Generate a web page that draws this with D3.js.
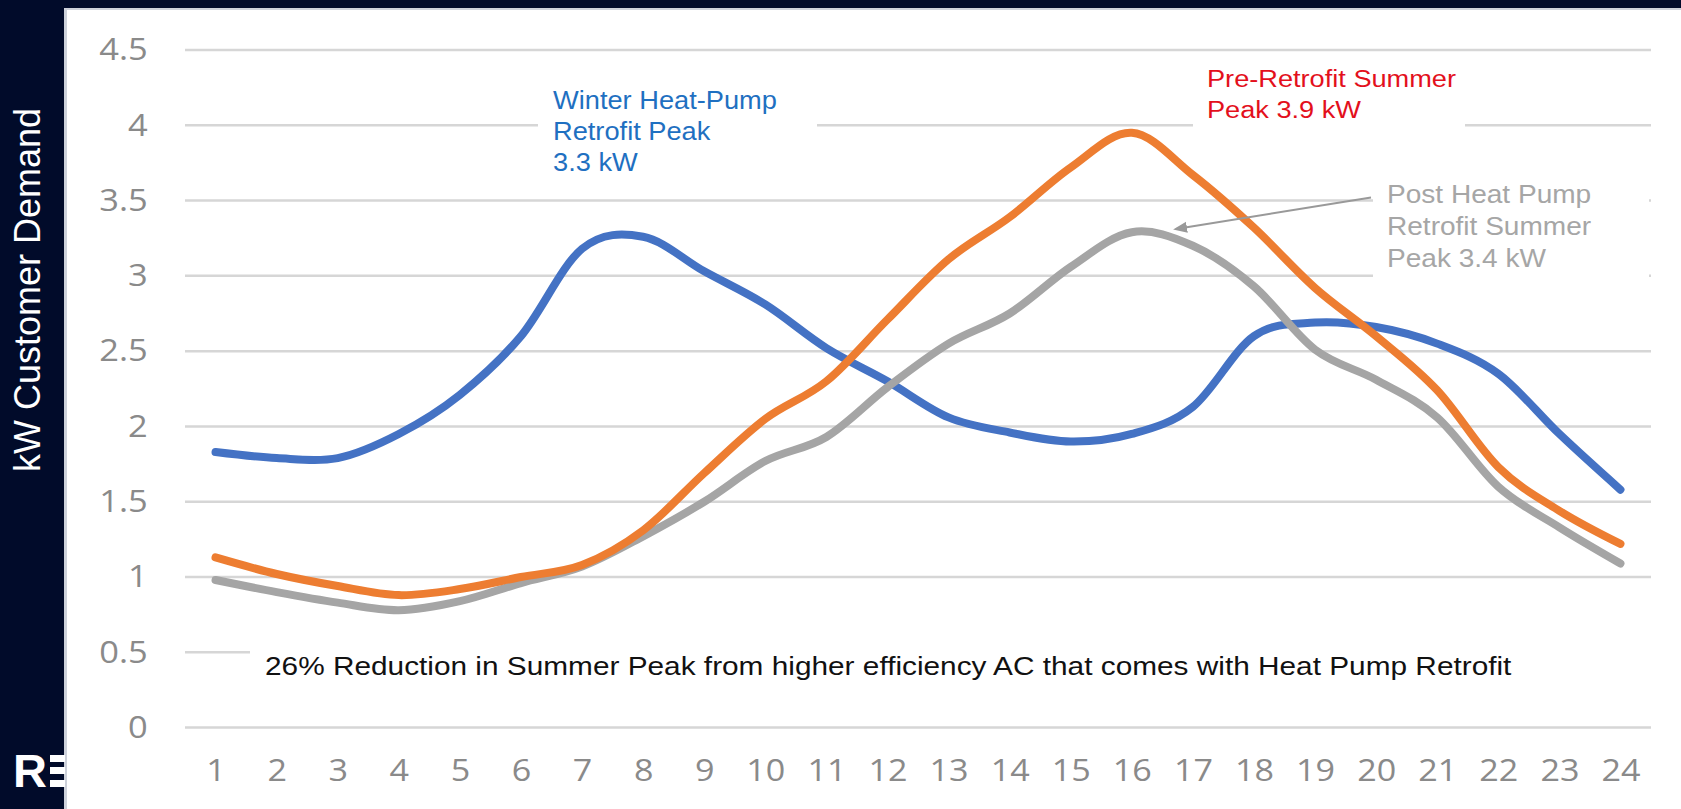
<!DOCTYPE html>
<meta charset="utf-8">
<style>
body { margin: 0; background: #010b2a; }
.grid line { stroke: #d6d6d6; stroke-width: 2.5; }
.axis text { font-family: "Open Sans", sans-serif; fill: #8a8a8a; }
.axis path { display: none; }
.series { fill: none; stroke-width: 8; stroke-linecap: round; stroke-linejoin: round; }
</style>
<body>
<script src="https://d3js.org/d3.v7.min.js"></script>
<script>

var width = 1681,
    height = 809;

// hours of the day (x categories)
var hours = [1, 2, 3, 4, 5, 6, 7, 8, 9, 10, 11, 12, 13, 14, 15, 16, 17, 18, 19, 20, 21, 22, 23, 24];

// kW demand
var winterHeatPump = [1.83, 1.79, 1.79, 1.95, 2.21, 2.60, 3.18, 3.26, 3.03, 2.81, 2.52, 2.30,
                      2.06, 1.96, 1.90, 1.95, 2.13, 2.60, 2.69, 2.66, 2.55, 2.35, 1.95, 1.58];
var preRetrofitSummer = [1.13, 1.02, 0.94, 0.88, 0.92, 1.00, 1.08, 1.31, 1.69, 2.05, 2.30, 2.71,
                         3.11, 3.39, 3.72, 3.95, 3.67, 3.32, 2.92, 2.60, 2.24, 1.73, 1.44, 1.22];
var postRetrofitSummer = [0.98, 0.90, 0.83, 0.78, 0.84, 0.96, 1.07, 1.27, 1.50, 1.77, 1.93, 2.26,
                          2.55, 2.75, 3.06, 3.29, 3.20, 2.93, 2.51, 2.31, 2.06, 1.60, 1.33, 1.09];

var yTicks = [0, 0.5, 1, 1.5, 2, 2.5, 3, 3.5, 4, 4.5];
var yTitle = "kW Customer Demand";

var winterNote = ["Winter Heat-Pump", "Retrofit Peak", "3.3 kW"];
var preNote = ["Pre-Retrofit Summer", "Peak 3.9 kW"];
var postNote = ["Post Heat Pump", "Retrofit Summer", "Peak 3.4 kW"];
var bottomNote = "26% Reduction in Summer Peak from higher efficiency AC that comes with Heat Pump Retrofit";

var plotLeft = 185, plotRight = 1651, plotTop = 50, plotBottom = 727.6;
var stretch = 1.1;   // the source picture is a little wider than tall

var svg = d3.select("body").append("svg")
    .attr("width", width)
    .attr("height", height)
    .style("display", "block");

// dark slide frame and white chart panel
svg.append("rect").attr("width", width).attr("height", height).attr("fill", "#010b2a");
svg.append("rect").attr("x", 64).attr("y", 8).attr("width", width - 64).attr("height", height - 8).attr("fill", "#cdd1da");
svg.append("rect").attr("x", 67).attr("y", 10).attr("width", width - 67).attr("height", height - 10).attr("fill", "#ffffff");

// logo bits bottom left
svg.append("text")
    .attr("x", 13).attr("y", 787)
    .attr("font-family", "Liberation Sans, Arial, sans-serif")
    .attr("font-weight", "bold")
    .attr("font-size", 47)
    .attr("fill", "#ffffff")
    .text("R");
svg.append("g").selectAll("rect")
    .data([755, 767, 780])
    .enter().append("rect")
    .attr("x", 50).attr("y", function(d) { return d; })
    .attr("width", 15).attr("height", 7)
    .attr("fill", "#ffffff");

var x = d3.scalePoint()
    .domain(hours)
    .range([plotLeft, plotRight])
    .padding(0.5);

var y = d3.scaleLinear()
    .domain([0, 4.5])
    .range([plotBottom, plotTop]);

// gridlines
svg.append("g")
    .attr("class", "grid")
    .selectAll("line")
    .data(yTicks)
    .enter().append("line")
    .attr("x1", plotLeft).attr("x2", plotRight)
    .attr("y1", function(d) { return y(d); })
    .attr("y2", function(d) { return y(d); });

// white boxes behind the text notes (they hide the gridlines)
var boxes = [[538, 72, 279, 110], [1193, 58, 272, 78], [1373, 170, 276, 112], [250, 640, 1405, 48]];
svg.append("g").selectAll("rect")
    .data(boxes)
    .enter().append("rect")
    .attr("x", function(d) { return d[0]; })
    .attr("y", function(d) { return d[1]; })
    .attr("width", function(d) { return d[2]; })
    .attr("height", function(d) { return d[3]; })
    .attr("fill", "#ffffff");

// axes
svg.append("g")
    .attr("class", "axis")
    .attr("transform", "translate(" + plotLeft + ",0)")
    .call(d3.axisLeft(y).tickValues(yTicks).tickSize(0).tickPadding(33).tickFormat(function(d) { return String(d); }))
    .selectAll("text")
    .attr("font-size", 30.5)
    .attr("transform", "scale(1.13,1)");

svg.append("g")
    .attr("class", "axis")
    .attr("transform", "translate(0," + plotBottom + ")")
    .call(d3.axisBottom(x).tickSize(0).tickPadding(31))
    .selectAll("text")
    .attr("font-size", 31)
    .attr("transform", "scale(" + stretch + ",1)");

// y title
svg.append("text")
    .attr("transform", "translate(40,290) rotate(-90)")
    .attr("text-anchor", "middle")
    .attr("font-family", "Liberation Sans, Arial, sans-serif")
    .attr("font-size", 36)
    .attr("fill", "#ffffff")
    .text(yTitle);

// lines
var line = d3.line()
    .x(function(d, i) { return x(hours[i]); })
    .y(function(d) { return y(d); })
    .curve(d3.curveCardinal);

var series = [
    { values: winterHeatPump, color: "#4472c4" },
    { values: postRetrofitSummer, color: "#a5a5a5" },
    { values: preRetrofitSummer, color: "#ed7d31" }
];

svg.append("g").selectAll("path")
    .data(series)
    .enter().append("path")
    .attr("class", "series")
    .attr("stroke", function(d) { return d.color; })
    .attr("d", function(d) { return line(d.values); });

// notes
function note(lines, left, baseline, lineHeight, size, color, sx) {
    var t = svg.append("text")
        .attr("transform", "translate(" + left + "," + baseline + ") scale(" + (sx || stretch) + ",1)")
        .attr("font-family", "Liberation Sans, Arial, sans-serif")
        .attr("font-size", size)
        .attr("fill", color);
    t.selectAll("tspan")
        .data(lines)
        .enter().append("tspan")
        .attr("x", 0)
        .attr("y", function(d, i) { return i * lineHeight; })
        .text(function(d) { return d; });
    return t;
}

note(winterNote, 553, 109.3, 31, 25, "#1f70c1", 1.09);
note(preNote, 1207, 87.3, 31, 24.7, "#e3101c");
note(postNote, 1387, 203.3, 32, 25.5, "#a6a6a6");
note([bottomNote], 265, 675, 0, 26.5, "#111111", 1.125);

// arrow to the post-retrofit peak
svg.append("defs").append("marker")
    .attr("id", "head")
    .attr("viewBox", "0 0 10 10")
    .attr("refX", 8).attr("refY", 5)
    .attr("markerWidth", 7).attr("markerHeight", 7)
    .attr("orient", "auto")
    .append("path")
    .attr("d", "M0,1L10,5L0,9Z")
    .attr("fill", "#999999");

svg.append("line")
    .attr("x1", 1371).attr("y1", 197.5)
    .attr("x2", x(17) - 17).attr("y2", 229)
    .attr("stroke", "#999999")
    .attr("stroke-width", 2)
    .attr("marker-end", "url(#head)");

</script>
